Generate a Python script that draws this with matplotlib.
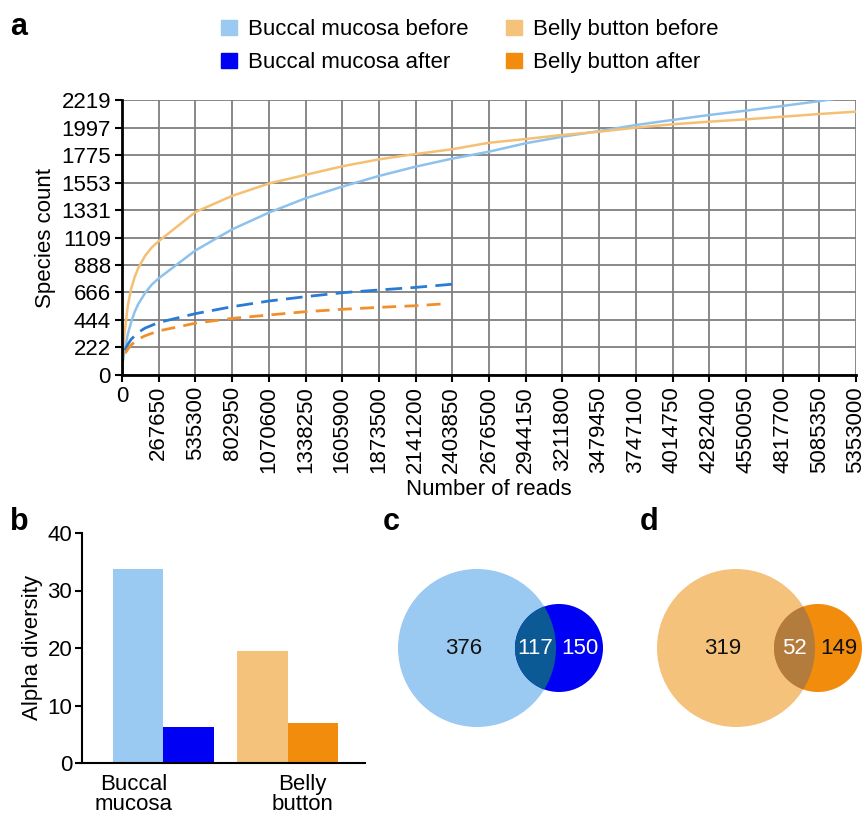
import matplotlib
matplotlib.use('Agg')
import matplotlib.pyplot as plt
from matplotlib.patches import Circle, Patch

plt.rcParams['font.family'] = ['Liberation Sans', 'DejaVu Sans']

W, H = 865, 817

# --- panel a: rarefaction curves ---
reads_bm_before = [0, 5000, 17500, 42500, 67500, 92500, 117500, 167500, 217500, 267650,
                   535300, 802950, 1070600, 1338250, 1605900, 1873500, 2141200, 2403850,
                   2676500, 2944150, 3211800, 3479450, 3747100, 4014750, 4282400, 4550050,
                   4817700, 5085350, 5180000]
species_bm_before = [0, 100, 190, 330, 430, 510, 570, 660, 730, 780,
                     1005, 1175, 1310, 1426, 1520, 1606, 1681, 1745,
                     1802, 1870, 1923, 1968, 2017, 2058, 2098, 2133,
                     2171, 2210, 2225]

reads_bb_before = [0, 5000, 17500, 42500, 67500, 92500, 117500, 167500, 217500, 267650,
                   535300, 802950, 1070600, 1338250, 1605900, 1873500, 2141200, 2403850,
                   2676500, 2944150, 3211800, 3479450, 3747100, 4014750, 4282400, 4550050,
                   4817700, 5085350, 5353000]
species_bb_before = [0, 190, 330, 560, 700, 790, 860, 960, 1030, 1080,
                     1315, 1445, 1545, 1615, 1684, 1740, 1783, 1821,
                     1874, 1904, 1937, 1963, 1996, 2023, 2044, 2063,
                     2084, 2106, 2125]

reads_bm_after = [0, 5000, 17500, 42500, 67500, 117500, 167500, 267650, 535300, 802950,
                  1070600, 1338250, 1605900, 1873500, 2141200, 2403850, 2441000]
species_bm_after = [0, 130, 194, 248, 289, 343, 378, 424, 495, 551,
                    597, 632, 664, 686, 707, 732, 740]

reads_bb_after = [0, 5000, 17500, 42500, 67500, 117500, 167500, 267650, 535300, 802950,
                  1070600, 1338250, 1605900, 1873500, 2141200, 2331000]
species_bb_after = [0, 115, 167, 208, 243, 289, 316, 356, 418, 457,
                    484, 511, 530, 546, 559, 573]

yticks_a = [0, 222, 444, 666, 888, 1109, 1331, 1553, 1775, 1997, 2219]
xticks_a = [0, 267650, 535300, 802950, 1070600, 1338250, 1605900, 1873500, 2141200,
            2403850, 2676500, 2944150, 3211800, 3479450, 3747100, 4014750, 4282400,
            4550050, 4817700, 5085350, 5353000]

# --- panel b: alpha diversity ---
groups = ['Buccal\nmucosa', 'Belly\nbutton']
alpha_before = [33.8, 19.5]
alpha_after = [6.2, 6.9]

# --- panels c, d: venn counts (only first, shared, only second) ---
venn_bm = [376, 117, 150]
venn_bb = [319, 52, 149]

c_bm_before = '#9ac9f1'
c_bm_after = '#0000f5'
c_bb_before = '#f5c27c'
c_bb_after = '#f28c0d'


def box(x0, y0, x1, y1):
    return [x0 / W, 1 - y1 / H, (x1 - x0) / W, (y1 - y0) / H]


fig = plt.figure(figsize=(W / 100, H / 100), dpi=100)

# ---------------- a ----------------
ax = fig.add_axes(box(122, 100, 856, 375))
ax.plot(reads_bm_before, species_bm_before, color='#8ec2ec', lw=1.8)
ax.plot(reads_bb_before, species_bb_before, color='#f5bf74', lw=1.8)
ax.plot(reads_bm_after, species_bm_after, color='#2a7bd3', lw=2, dashes=(6, 3))
ax.plot(reads_bb_after, species_bb_after, color='#f0902c', lw=2, dashes=(5, 3))
ax.set_xlim(0, 5353000)
ax.set_ylim(0, 2219)
ax.set_xticks(xticks_a)
ax.set_xticklabels([str(v) for v in xticks_a], rotation=90, fontsize=16)
ax.get_xticklabels()[0].set_rotation(0)
ax.set_yticks(yticks_a)
ax.set_yticklabels([str(v) for v in yticks_a], fontsize=16)
ax.grid(True, color='#7f7f7f', lw=1.3)
for s in ['top', 'right']:
    ax.spines[s].set_visible(False)
for s in ['left', 'bottom']:
    ax.spines[s].set_linewidth(2)
ax.tick_params(length=5, width=1.5, pad=3)
ax.set_xlabel('Number of reads', fontsize=16, labelpad=4)
ax.set_ylabel('Species count', fontsize=16, labelpad=4)

handles = [Patch(color=c_bm_before, label='Buccal mucosa before'),
           Patch(color=c_bm_after, label='Buccal mucosa after'),
           Patch(color=c_bb_before, label='Belly button before'),
           Patch(color=c_bb_after, label='Belly button after')]
fig.legend(handles=handles, ncol=2, loc='upper left', bbox_to_anchor=(210 / W, 1 - 8 / H),
           frameon=False, fontsize=16, handlelength=0.7, handleheight=0.7,
           handletextpad=0.5, columnspacing=1.7, labelspacing=0.55, borderpad=0)

# ---------------- b ----------------
axb = fig.add_axes(box(82, 533, 365, 763))
unit = 50.5
pos_before = [0, 2.465]
pos_after = [p + 1 for p in pos_before]
axb.bar(pos_before, alpha_before, width=1, color=[c_bm_before, c_bb_before], edgecolor='none')
axb.bar(pos_after, alpha_after, width=1, color=[c_bm_after, c_bb_after], edgecolor='none')
axb.set_xlim((82 - 138) / unit, (365 - 138) / unit)
axb.set_ylim(0, 40)
axb.set_yticks([0, 10, 20, 30, 40])
axb.set_yticklabels(['0', '10', '20', '30', '40'], fontsize=16)
axb.set_xticks([pos_before[0] - 0.08, pos_before[1] + 0.79])
axb.set_xticklabels(groups, fontsize=16, linespacing=0.95)
axb.tick_params(axis='x', length=0, pad=8)
axb.tick_params(axis='y', length=5, width=1.5, pad=2)
for s in ['top', 'right']:
    axb.spines[s].set_visible(False)
for s in ['left', 'bottom']:
    axb.spines[s].set_linewidth(1.5)
axb.set_ylabel('Alpha diversity', fontsize=16, labelpad=3)

# ---------------- c, d ----------------
axv = fig.add_axes(box(380, 540, 865, 760))
axv.set_xlim(380, 865)
axv.set_ylim(760, 540)
axv.axis('off')

r_big, r_small, gap = 79, 44, 82


def venn(cx, cy, counts, c_big, c_small, c_over, txt_colors):
    big = Circle((cx, cy), r_big, fc=c_big, ec='none')
    axv.add_patch(big)
    axv.add_patch(Circle((cx + gap, cy), r_small, fc=c_small, ec='none'))
    ov = Circle((cx + gap, cy), r_small, fc=c_over, ec='none')
    axv.add_patch(ov)
    ov.set_clip_path(big)
    xs = [cx - 13,
          (cx + gap - r_small + cx + r_big) / 2,
          (cx + r_big + cx + gap + r_small) / 2]
    for x, n, tc in zip(xs, counts, txt_colors):
        axv.text(x, cy, str(n), ha='center', va='center', fontsize=16, color=tc)


venn(477, 648, venn_bm, c_bm_before, c_bm_after, '#0b5a95', ['#111111', 'white', 'white'])
venn(736, 648, venn_bb, c_bb_before, c_bb_after, '#b37b3c', ['#111111', 'white', '#111111'])

# panel letters
for lbl, x, y in [('a', 10, 35), ('b', 10, 530), ('c', 383, 530), ('d', 640, 530)]:
    fig.text(x / W, 1 - y / H, lbl, fontsize=22, fontweight='bold')

fig.savefig('out.png', dpi=100)
